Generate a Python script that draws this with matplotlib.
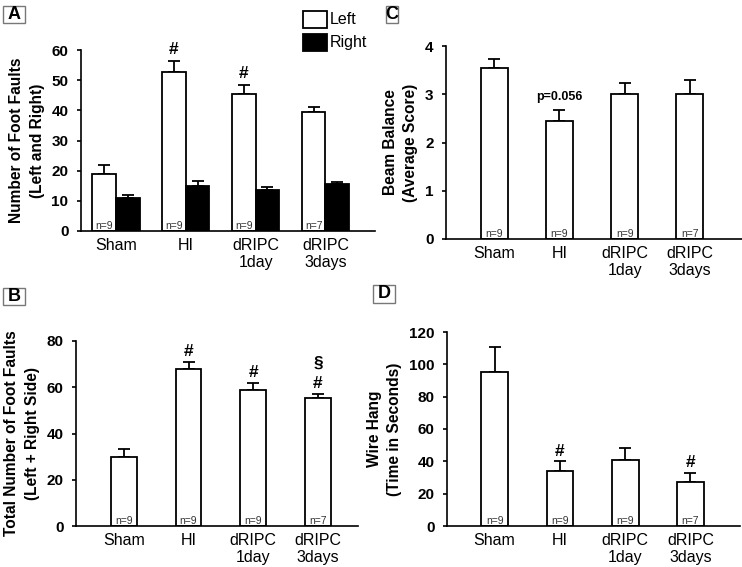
import numpy as np
import matplotlib.pyplot as plt
from matplotlib.patches import Rectangle

plt.rcParams['font.family'] = ['Liberation Sans', 'DejaVu Sans']

groups = ['Sham', 'HI', 'dRIPC\n1day', 'dRIPC\n3days']
n_labels = ['n=9', 'n=9', 'n=9', 'n=7']

# Panel A - foot faults, left / right
a_left = [19.0, 52.8, 45.3, 39.3]
a_left_err = [3.0, 3.4, 3.0, 1.7]
a_right = [11.0, 15.0, 13.6, 15.6]
a_right_err = [1.0, 1.6, 0.9, 0.7]
a_marks = ['', '#', '#', '']

# Panel B - total foot faults
b_total = [29.8, 67.8, 59.0, 55.3]
b_err = [3.7, 3.2, 3.0, 1.9]
b_marks = ['', '#', '#', '§\n#']

# Panel C - beam balance
c_score = [3.55, 2.45, 3.0, 3.0]
c_err = [0.18, 0.23, 0.23, 0.30]
c_marks = ['', 'p=0.056', '', '']

# Panel D - wire hang
d_time = [95.5, 34.0, 41.0, 27.5]
d_err = [15.5, 6.0, 7.0, 5.5]
d_marks = ['', '#', '', '#']

W, H = 742, 567
fig = plt.figure(figsize=(W / 100, H / 100), dpi=100)


def px_axes(x0, y0, x1, y1):
    return fig.add_axes([x0 / W, 1 - y1 / H, (x1 - x0) / W, (y1 - y0) / H])


def style(ax, ylim, yticks, ylabel):
    ax.set_ylim(*ylim)
    ax.set_yticks(yticks)
    for s in ['top', 'right']:
        ax.spines[s].set_visible(False)
    ax.spines['left'].set_linewidth(1.2)
    ax.spines['bottom'].set_linewidth(1.2)
    ax.tick_params(axis='y', direction='out', length=3, width=1.2, pad=6, labelsize=11)
    for t in ax.get_yticklabels():
        t.set_fontweight('bold')
    ax.set_xticks(range(len(groups)))
    ax.set_xticklabels(groups, fontsize=11.5, linespacing=1.15)
    ax.tick_params(axis='x', length=0, pad=5)
    ax.set_ylabel(ylabel, fontsize=11.2, fontweight='bold', linespacing=1.45, labelpad=5)


def bars(ax, x, vals, errs, width, color):
    ax.bar(x, vals, width, color=color, edgecolor='black', linewidth=1.3, zorder=2)
    ax.errorbar(x, vals, yerr=[np.zeros(len(errs)), errs], fmt='none', ecolor='black',
                elinewidth=1.3, capsize=4, capthick=1.3, zorder=1)


def nlab(ax, x):
    for xi, t in zip(x, n_labels):
        ax.text(xi, 0, t, ha='center', va='bottom', fontsize=7.5, color='#333333')


def marks(ax, x, vals, errs, lab, off, size=12.5):
    for xi, v, e, m in zip(x, vals, errs, lab):
        if m:
            ax.annotate(m, (xi, v + e), xytext=(0, off), textcoords='offset points',
                        ha='center', va='bottom', fontsize=size, fontweight='bold',
                        linespacing=1.4)


def panel_label(x0, y0, x1, y1, letter):
    fig.patches.append(Rectangle((x0 / W, 1 - y1 / H), (x1 - x0) / W, (y1 - y0) / H,
                                 transform=fig.transFigure, facecolor='white',
                                 edgecolor='#777777', linewidth=1))
    fig.text((x0 + x1) / 2 / W, 1 - (y0 + y1) / 2 / H, letter, ha='center', va='center',
             fontsize=13, fontweight='bold')


x = np.arange(4)

# A
axA = px_axes(81, 50, 375, 231)
w = 0.34
bars(axA, x - w / 2, a_left, a_left_err, w, 'white')
bars(axA, x + w / 2, a_right, a_right_err, w, 'black')
axA.set_xlim(-0.5, 3.71)
style(axA, (0, 60), range(0, 61, 10), 'Number of Foot Faults\n(Left and Right)')
nlab(axA, x - w / 2)
marks(axA, x - w / 2, a_left, a_left_err, a_marks, 3)

# legend in A
fig.patches.append(Rectangle((303 / W, 1 - 28 / H), 24 / W, 17 / H, transform=fig.transFigure,
                             facecolor='white', edgecolor='black', linewidth=1.3))
fig.patches.append(Rectangle((303 / W, 1 - 51 / H), 24 / W, 17 / H, transform=fig.transFigure,
                             facecolor='black', edgecolor='black', linewidth=1.3))
fig.text(330 / W, 1 - 20 / H, 'Left', va='center', fontsize=11.5)
fig.text(330 / W, 1 - 43 / H, 'Right', va='center', fontsize=11.5)

# B
axB = px_axes(76, 341, 358, 526)
bars(axB, x, b_total, b_err, 0.40, 'white')
axB.set_xlim(-0.74, 3.62)
style(axB, (0, 80), range(0, 81, 20), 'Total Number of Foot Faults\n(Left + Right Side)')
nlab(axB, x)
marks(axB, x, b_total, b_err, b_marks, 2)

# C
axC = px_axes(446, 46, 742, 239)
bars(axC, x, c_score, c_err, 0.41, 'white')
axC.set_xlim(-0.74, 3.80)
style(axC, (0, 4), range(0, 5), 'Beam Balance\n(Average Score)')
nlab(axC, x)
marks(axC, x, c_score, c_err, c_marks, 5, size=9)

# D
axD = px_axes(447, 332, 740, 526)
bars(axD, x, d_time, d_err, 0.41, 'white')
axD.set_xlim(-0.73, 3.76)
style(axD, (0, 120), range(0, 121, 20), 'Wire Hang\n(Time in Seconds)')
nlab(axD, x)
marks(axD, x, d_time, d_err, d_marks, 2)

panel_label(3, 6, 25, 23, 'A')
panel_label(3, 288, 25, 305, 'B')
panel_label(386, 6, 398, 23, 'C')
panel_label(373, 285, 395, 303, 'D')

fig.savefig('out.png', dpi=100)
